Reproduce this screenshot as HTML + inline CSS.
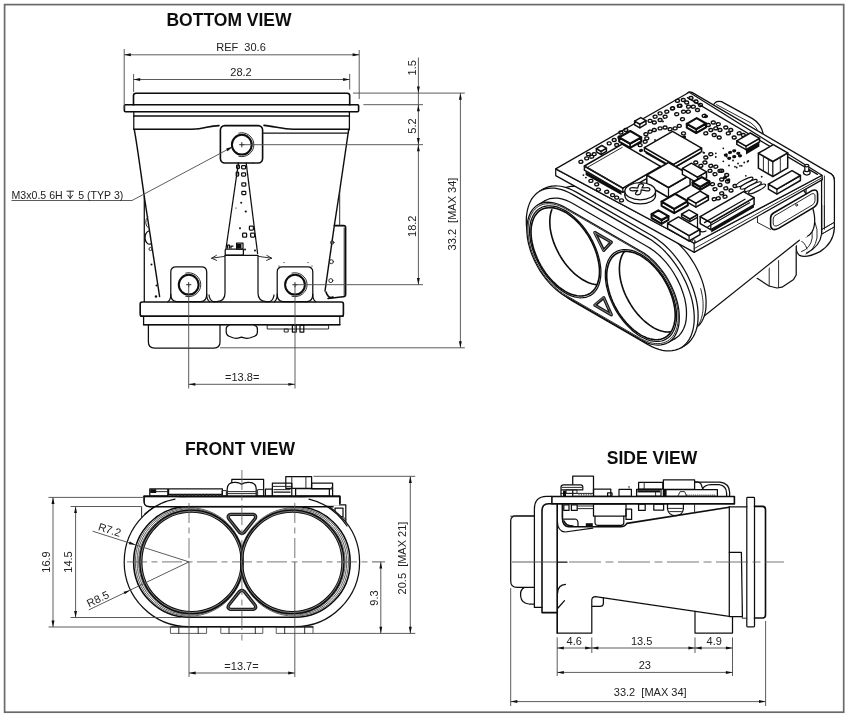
<!DOCTYPE html>
<html><head><meta charset="utf-8"><title>Drawing</title>
<style>
html,body{margin:0;padding:0;background:#fff;}
body{width:850px;height:719px;overflow:hidden;font-family:"Liberation Sans",sans-serif;}
svg{display:block;}
.o{fill:none;stroke:#111;stroke-width:1.25;stroke-linecap:round;stroke-linejoin:round;}
.of{fill:#fff;stroke:#111;stroke-width:1.25;stroke-linecap:round;stroke-linejoin:round;}
.k{fill:none;stroke:#0a0a0a;stroke-width:1.6;stroke-linecap:round;stroke-linejoin:round;}
.kf{fill:#fff;stroke:#0a0a0a;stroke-width:1.6;stroke-linecap:round;stroke-linejoin:round;}
.t{fill:none;stroke:#222;stroke-width:0.95;stroke-linecap:round;stroke-linejoin:round;}
.tf{fill:#fff;stroke:#222;stroke-width:0.95;stroke-linecap:round;stroke-linejoin:round;}
.w{fill:#fff;stroke:none;}
.b{fill:#111;stroke:none;}
.g{fill:#555;stroke:none;}
.d{fill:none;stroke:#4a4a4a;stroke-width:0.9;}
.c{fill:none;stroke:#555;stroke-width:0.8;stroke-dasharray:20 4.5 6 4.5;}
.c2{fill:none;stroke:#555;stroke-width:0.8;stroke-dasharray:32 4.5 8 4.5;}
.ah{fill:#111;stroke:none;}
.fr{fill:none;stroke:#6a6a6a;stroke-width:1.7;}
text{font-family:"Liberation Sans",sans-serif;}
.dt{font-size:11px;fill:#222;}
.tt{font-size:17.5px;font-weight:bold;fill:#111;}
</style></head>
<body>
<svg width="850" height="719" viewBox="0 0 850 719">
<defs><filter id="bl" x="0" y="0" width="850" height="719" filterUnits="userSpaceOnUse"><feGaussianBlur stdDeviation="0.5"/></filter></defs>
<rect x="0" y="0" width="850" height="719" fill="#fff"/>
<g filter="url(#bl)">
<g id="sec_frame">
<rect class="fr" x="4.6" y="4.6" width="839.1" height="707.6"/>
<text class="tt" x="229" y="26.3" text-anchor="middle">BOTTOM VIEW</text>
<text class="tt" x="240" y="454.6" text-anchor="middle">FRONT VIEW</text>
<text class="tt" x="652" y="463.6" text-anchor="middle">SIDE VIEW</text>
</g>
<g id="sec_bottom">
<path class="k" d="M133.5 105 V95.5 Q133.5 93.2 136 93.2 H347.2 Q349.7 93.2 349.7 95.5 V105"/>
<rect class="k" x="124.4" y="104.8" width="234.2" height="7" rx="1"/>
<path class="o" d="M133.8 111.8 V129.2 M349.4 111.8 V129.8"/>
<line class="k" x1="133.8" y1="116" x2="349.4" y2="116"/>
<path class="k" d="M133.8 129.3 H192 C205 129.3 208 125.6 219 125.6"/>
<path class="k" d="M264 125.4 C275 126.5 283 129.3 293 129.3 H349"/>
<line class="o" x1="263.5" y1="133.2" x2="347.6" y2="133.2"/>
<path class="o" d="M134.3 129.6 C138 150 141 175 144.5 198 L159.6 296.5" style="stroke-width:1.45"/>
<path class="o" d="M348.6 130 L339.8 190 L334.4 225 L325 291" style="stroke-width:1.45"/>
<line class="o" x1="144.3" y1="196" x2="144.3" y2="301.5"/>
<path class="t" d="M147.8 217 A4 6 0 0 0 148.6 228"/>
<path class="o" d="M148.6 231 A4.5 6.5 0 0 0 150.6 244"/>
<circle class="t" cx="150.6" cy="249" r="1.6"/>
<circle class="b" cx="151.5" cy="264.5" r="1"/>
<circle class="b" cx="156.5" cy="285.5" r="1"/>
<circle class="b" cx="156" cy="296.5" r="1.2"/>
<path class="k" d="M334.4 225.6 H343.5 Q345.6 225.6 345.6 227.5 V294.5 Q345.6 296.6 343 296.8 L328 298.5"/>
<line class="t" x1="339.7" y1="190.5" x2="339.7" y2="225.5"/>
<line class="t" x1="344.2" y1="228" x2="344.2" y2="295"/>
<circle class="t" cx="332.2" cy="242.5" r="1.7"/>
<circle class="t" cx="331.4" cy="261.7" r="2"/>
<circle class="t" cx="330.8" cy="280.6" r="2"/>
<path class="k" d="M326 292 Q328 299 333 297"/>
<rect class="k" x="220.4" y="125.6" width="42.2" height="37.4" rx="4.5"/>
<circle class="k" cx="241.8" cy="144.7" r="9.9" style="stroke-width:2"/>
<path class="t" d="M238.8 133.1 A12 12 0 1 1 238.8 156.3"/>
<line class="t" x1="239.6" y1="144.7" x2="244" y2="144.7"/>
<line class="t" x1="241.8" y1="142.5" x2="241.8" y2="146.9"/>
<path class="o" d="M167.8 301.8 Q170.8 300 170.8 294 V272 Q170.8 266.8 176.0 266.8 H201.5 Q206.7 266.8 206.7 272 V294 Q206.7 300 209.7 301.8"/>
<path class="o" d="M170.8 294 Q170.8 301.6 176.8 301.6 H200.7 Q206.7 301.6 206.7 294"/>
<circle class="k" cx="188.7" cy="284.7" r="9.9" style="stroke-width:2"/>
<path class="t" d="M185.7 273.1 A12 12 0 1 1 185.7 296.3"/>
<line class="t" x1="186.5" y1="284.7" x2="190.9" y2="284.7"/>
<line class="t" x1="188.7" y1="282.5" x2="188.7" y2="286.9"/>
<path class="o" d="M274.2 301.8 Q277.2 300 277.2 294 V272 Q277.2 266.8 282.4 266.8 H307.6 Q312.8 266.8 312.8 272 V294 Q312.8 300 315.8 301.8"/>
<path class="o" d="M277.2 294 Q277.2 301.6 283.2 301.6 H306.8 Q312.8 301.6 312.8 294"/>
<circle class="k" cx="295" cy="284.7" r="9.9" style="stroke-width:2"/>
<path class="t" d="M292.0 273.1 A12 12 0 1 1 292.0 296.3"/>
<line class="t" x1="292.8" y1="284.7" x2="297.2" y2="284.7"/>
<line class="t" x1="295" y1="282.5" x2="295" y2="286.9"/>
<path class="o" d="M225 255.5 V293 Q225 301 217 301.6 H213 Q209.5 300 209 295"/>
<path class="o" d="M258 255.8 V293 Q258 301 266 301.6 H270 Q273.5 300 274 295"/>
<line class="o" x1="225" y1="255.3" x2="258" y2="255.3"/>
<rect class="o" x="225.2" y="249.2" width="18.2" height="6" rx="1"/>
<rect class="o" x="236.6" y="243" width="6.4" height="6"/>
<path class="t" d="M211.6 258.2 L224.6 256.4 M216.4 255.4 L211.6 258.2 L216.6 260.4"/>
<path class="t" d="M271.6 258.2 L258.6 256.4 M266.8 255.4 L271.6 258.2 L266.6 260.4"/>
<path class="o" d="M238.4 163.2 L226 248.5"/>
<path class="o" d="M246.2 163.2 L257.6 253.5"/>
<rect class="o" x="241.6" y="165.6" width="4" height="3.2" rx="0.8"/>
<rect class="o" x="241.6" y="172.9" width="4" height="3.2" rx="0.8"/>
<rect class="o" x="241.8" y="182.9" width="4" height="3.2" rx="0.8"/>
<rect class="o" x="241.8" y="191.4" width="4" height="3.2" rx="0.8"/>
<rect class="o" x="236.6" y="165" width="2.8" height="3.5" rx="0.8"/>
<rect class="o" x="236.2" y="172" width="2.4" height="4" rx="0.8"/>
<circle class="b" cx="241.2" cy="202.8" r="1"/>
<circle class="b" cx="245.8" cy="211.5" r="1.1"/>
<circle class="b" cx="240" cy="228.3" r="1"/>
<circle class="b" cx="245" cy="249.5" r="1"/>
<circle class="b" cx="255" cy="250.5" r="1"/>
<circle class="b" cx="236" cy="208" r="0.6"/>
<rect class="o" x="249.4" y="226" width="4" height="4" rx="0.8"/>
<rect class="o" x="242.6" y="233.2" width="4" height="4" rx="0.8"/>
<rect class="o" x="250.6" y="233" width="4" height="4" rx="0.8"/>
<rect class="b" x="236.5" y="244" width="5" height="4.4"/>
<path class="o" d="M227.5 248 v-3 h2 v3 M231 248 v-2 h2"/>
<circle class="b" cx="253" cy="163.5" r="0.6"/>
<circle class="b" cx="284" cy="262.5" r="0.6"/>
<circle class="b" cx="308" cy="262.5" r="0.6"/>
<circle class="b" cx="279" cy="266" r="0.6"/>
<circle class="b" cx="312" cy="266" r="0.6"/>
<rect class="k" x="140.2" y="302" width="203.2" height="14.3" rx="2"/>
<line class="k" x1="141" y1="316.3" x2="343" y2="316.3"/>
<path class="o" d="M143.6 316.3 V324.7 H339.8 V316.3"/>
<line class="k" x1="143.6" y1="324.7" x2="339.8" y2="324.7"/>
<path class="o" d="M148.4 324.7 V342 Q148.4 348 154.5 348 H214 Q220 348 220 342 V324.7"/>
<path class="o" d="M229 325.5 Q226.2 326 226.2 329 V332 Q226.4 336 231 337 Q236 339.5 241.5 337.2 Q247 339.5 252.5 337 Q257.4 336 257.4 332 V329 Q257.4 326 254.5 325.5"/>
<rect class="t" x="267.6" y="325" width="61" height="4"/>
<rect class="o" x="292.4" y="325" width="3.8" height="7"/>
<rect class="o" x="300" y="325" width="3.8" height="7"/>
<rect class="t" x="284.6" y="329" width="3.6" height="3"/>
<line class="d" x1="124.2" y1="49" x2="124.2" y2="109"/>
<line class="d" x1="359.2" y1="50" x2="359.2" y2="99"/>
<line class="d" x1="124.2" y1="54.8" x2="359.2" y2="54.8"/>
<polygon class="ah" points="124.2,54.8 130.8,53.3 130.8,56.2"/>
<polygon class="ah" points="359.2,54.8 352.6,56.2 352.6,53.3"/>
<text class="dt" x="241" y="51.2" text-anchor="middle">REF&#160;&#160;30.6</text>
<line class="d" x1="133.6" y1="74" x2="133.6" y2="92"/>
<line class="d" x1="349.7" y1="74" x2="349.7" y2="89.5"/>
<line class="d" x1="133.6" y1="79.5" x2="349.7" y2="79.5"/>
<polygon class="ah" points="133.6,79.5 140.2,78 140.2,81"/>
<polygon class="ah" points="349.7,79.5 343.1,81 343.1,78"/>
<text class="dt" x="241" y="76.2" text-anchor="middle">28.2</text>
<line class="d" x1="418.4" y1="57.5" x2="418.4" y2="284.7"/>
<line class="d" x1="353" y1="93.1" x2="464.8" y2="93.1"/>
<line class="d" x1="363.4" y1="104.7" x2="423" y2="104.7"/>
<line class="d" x1="241.8" y1="144.7" x2="423" y2="144.7"/>
<line class="d" x1="295" y1="284.7" x2="423" y2="284.7"/>
<line class="d" x1="220" y1="347.8" x2="464.8" y2="347.8"/>
<polygon class="ah" points="418.4,93.1 416.9,86.5 419.8,86.5"/>
<polygon class="ah" points="418.4,104.7 419.8,111.3 416.9,111.3"/>
<polygon class="ah" points="418.4,144.7 416.9,138.1 419.8,138.1"/>
<polygon class="ah" points="418.4,144.7 419.8,151.3 416.9,151.3"/>
<polygon class="ah" points="418.4,284.7 416.9,278.1 419.8,278.1"/>
<line class="d" x1="460.4" y1="93.1" x2="460.4" y2="347.8"/>
<polygon class="ah" points="460.4,93.1 461.8,99.7 458.9,99.7"/>
<polygon class="ah" points="460.4,347.8 458.9,341.2 461.8,341.2"/>
<text class="dt" x="416.2" y="67.8" text-anchor="middle" transform="rotate(-90 416.2 67.8)">1.5</text>
<text class="dt" x="416.2" y="126" text-anchor="middle" transform="rotate(-90 416.2 126)">5.2</text>
<text class="dt" x="415.8" y="226.2" text-anchor="middle" transform="rotate(-90 415.8 226.2)">18.2</text>
<text class="dt" x="455.6" y="214" text-anchor="middle" transform="rotate(-90 455.6 214)">33.2&#160;&#160;[MAX 34]</text>
<line class="d" x1="188.7" y1="284.7" x2="188.7" y2="388.5"/>
<line class="d" x1="295" y1="284.7" x2="295" y2="388.5"/>
<line class="d" x1="188.7" y1="384.3" x2="295" y2="384.3"/>
<polygon class="ah" points="188.7,384.3 195.3,382.9 195.3,385.8"/>
<polygon class="ah" points="295,384.3 288.4,385.8 288.4,382.9"/>
<text class="dt" x="242.2" y="380.9" text-anchor="middle">=13.8=</text>
<path class="d" d="M11.5 200.5 L132 200.5 L232.2 147"/>
<polygon class="ah" points="232.6,146.8 227.5,151.2 226.1,148.6"/>
<text class="dt" x="11.5" y="198.6" text-anchor="start" textLength="51.2" lengthAdjust="spacingAndGlyphs">M3x0.5 6H</text>
<path class="t" d="M66.9 191.2 H73.5 M70.2 191.2 V198.4 M67.8 195.2 L70.2 198.4 L72.6 195.2"/>
<text class="dt" x="78.3" y="198.6" text-anchor="start" textLength="45" lengthAdjust="spacingAndGlyphs">5 (TYP 3)</text>
</g>
<g id="sec_front">
<rect class="o" x="285.8" y="476.6" width="25.8" height="11.8"/>
<line class="t" x1="291.8" y1="476.6" x2="291.8" y2="488.4"/>
<line class="t" x1="305.9" y1="476.6" x2="305.9" y2="488.4"/>
<rect class="o" x="311.6" y="483" width="21" height="5.8"/>
<line class="o" x1="332.6" y1="488.8" x2="332.6" y2="495.8"/>
<rect class="o" x="295.6" y="488.6" width="33.8" height="7.4"/>
<rect class="o" x="272.4" y="483" width="19.4" height="13"/>
<line class="t" x1="272.4" y1="486.4" x2="291.8" y2="486.4"/>
<line class="t" x1="274" y1="489.6" x2="290" y2="489.6"/>
<line class="o" x1="274" y1="492" x2="290" y2="492"/>
<rect class="o" x="265.4" y="489.2" width="7" height="6.8"/>
<path class="t" d="M330.6 488.6 q1.4 -3 1.8 0"/>
<path class="o" d="M231.8 482.5 V479.4 H263.6 V496"/>
<path class="o" d="M227.2 496 V489 Q227.5 482.6 234 482.4 Q238.5 482 241.6 484.2 Q244.6 482 249.5 482.4 Q256 482.6 256.2 489 V496"/>
<line class="t" x1="227.5" y1="491.6" x2="256" y2="491.6"/>
<line class="t" x1="227.5" y1="493.6" x2="256" y2="493.6"/>
<rect class="t" x="258" y="489.6" width="5.6" height="6.4"/>
<rect class="o" x="168.6" y="488.8" width="53.8" height="5.6"/>
<circle class="g" cx="172.5" cy="495.3" r="0.9"/>
<circle class="g" cx="176.1" cy="495.3" r="0.9"/>
<circle class="g" cx="179.7" cy="495.3" r="0.9"/>
<circle class="g" cx="183.3" cy="495.3" r="0.9"/>
<circle class="g" cx="186.9" cy="495.3" r="0.9"/>
<circle class="g" cx="190.5" cy="495.3" r="0.9"/>
<circle class="g" cx="194.1" cy="495.3" r="0.9"/>
<circle class="g" cx="197.7" cy="495.3" r="0.9"/>
<circle class="g" cx="201.3" cy="495.3" r="0.9"/>
<circle class="g" cx="204.9" cy="495.3" r="0.9"/>
<circle class="g" cx="208.5" cy="495.3" r="0.9"/>
<circle class="g" cx="212.1" cy="495.3" r="0.9"/>
<circle class="g" cx="215.7" cy="495.3" r="0.9"/>
<circle class="g" cx="219.3" cy="495.3" r="0.9"/>
<rect class="t" x="222.4" y="490.6" width="4" height="5.4"/>
<rect class="o" x="149.8" y="488.8" width="18" height="7.2"/>
<rect class="b" x="150.2" y="489.2" width="6" height="3.8"/>
<line class="t" x1="156.2" y1="491.6" x2="167.8" y2="491.6"/>
<path class="k" d="M144.1 496.4 H339.8 V503.2"/>
<path class="o" d="M144.1 496.4 V501.5 Q144.1 506.6 150 506.7"/>
<line class="t" x1="326.6" y1="503.2" x2="340" y2="503.2"/>
<path class="o" d="M326.8 504.8 H345.8 V526"/>
<rect class="o" x="335" y="508" width="8" height="8.6"/>
<line class="t" x1="343" y1="516.6" x2="345.8" y2="519.5"/>
<path class="t" d="M141.6 506.8 V517"/>
<path class="of" d="M189.0 497.1 H294.8 A64.8 64.8 0 0 1 294.8 626.7 H189.0 A64.8 64.8 0 0 1 189.0 497.1 Z"/>
<path class="k" d="M189.0 506.5 H294.8 A55.4 55.4 0 0 1 294.8 617.3 H189.0 A55.4 55.4 0 0 1 189.0 506.5 Z"/>
<path class="t" d="M241.9 547.3 A54.3 54.3 0 1 0 241.9 576.5" style="stroke:#555"/>
<path class="t" d="M241.9 549.4 A53.2 53.2 0 1 0 241.9 574.4" style="stroke:#555"/>
<path class="t" d="M241.9 551.2 A52.2 52.2 0 1 0 241.9 572.6" style="stroke:#555"/>
<circle class="k" cx="191.5" cy="561.9" r="50.7" style="stroke-width:3.3"/>
<circle class="t" cx="191.5" cy="561.9" r="50.7" style="stroke:#9a9a9a;stroke-width:0.8"/>
<path class="t" d="M241.9 547.3 A54.3 54.3 0 1 1 241.9 576.5" style="stroke:#555"/>
<path class="t" d="M241.9 549.4 A53.2 53.2 0 1 1 241.9 574.4" style="stroke:#555"/>
<path class="t" d="M241.9 551.2 A52.2 52.2 0 1 1 241.9 572.6" style="stroke:#555"/>
<circle class="k" cx="292.3" cy="561.9" r="50.7" style="stroke-width:3.3"/>
<circle class="t" cx="292.3" cy="561.9" r="50.7" style="stroke:#9a9a9a;stroke-width:0.8"/>
<rect class="w" x="145" y="497.4" width="194" height="8.2"/>
<path class="k" d="M144.1 496.4 H339.8 V503.2"/>
<path class="o" d="M144.1 496.4 V501.5 Q144.1 506.6 150 506.7"/>
<path class="o" d="M144.8 514 A64.8 64.8 0 0 1 175 499.2"/>
<path class="o" d="M309 499.2 A64.8 64.8 0 0 1 347 526"/>
<line class="k" x1="150" y1="506.7" x2="333" y2="506.7"/>
<g stroke-linejoin="round">
<path class="k" d="M230.5 514.4 H253.3 Q257 515.4 255 518.8 L244.2 532.4 Q241.9 534.4 239.6 532.4 L228.8 518.8 Q226.8 515.4 230.5 514.4 Z" style="stroke-width:3.3;stroke:#1a1a1a"/>
<path class="t" d="M230.5 514.4 H253.3 Q257 515.4 255 518.8 L244.2 532.4 Q241.9 534.4 239.6 532.4 L228.8 518.8 Q226.8 515.4 230.5 514.4 Z" style="stroke:#8a8a8a;stroke-width:0.8"/>
<path class="k" d="M230.5 609.4 H253.3 Q257 608.4 255 605 L244.2 591.4 Q241.9 589.4 239.6 591.4 L228.8 605 Q226.8 608.4 230.5 609.4 Z" style="stroke-width:3.3;stroke:#1a1a1a"/>
<path class="t" d="M230.5 609.4 H253.3 Q257 608.4 255 605 L244.2 591.4 Q241.9 589.4 239.6 591.4 L228.8 605 Q226.8 608.4 230.5 609.4 Z" style="stroke:#8a8a8a;stroke-width:0.8"/>
</g>
<rect class="t" x="170.8" y="627" width="35.8" height="6.4" style="stroke:#555"/>
<line class="t" x1="178.8" y1="627" x2="178.8" y2="633.4"/>
<line class="t" x1="198.2" y1="627" x2="198.2" y2="633.4"/>
<rect class="t" x="221.2" y="627" width="41.6" height="6.4" style="stroke:#555"/>
<line class="t" x1="229" y1="627" x2="229" y2="633.4"/>
<line class="t" x1="255.3" y1="627" x2="255.3" y2="633.4"/>
<rect class="t" x="276.6" y="627" width="36.4" height="6.4" style="stroke:#555"/>
<line class="t" x1="284.7" y1="627" x2="284.7" y2="633.4"/>
<line class="t" x1="304.7" y1="627" x2="304.7" y2="633.4"/>
<line class="o" x1="171" y1="626.9" x2="313" y2="626.9"/>
<line class="c" x1="127" y1="561.9" x2="372" y2="561.9"/>
<line class="c" x1="241.9" y1="470" x2="241.9" y2="644"/>
<line class="c" x1="189" y1="503" x2="189" y2="561.9"/>
<line class="c" x1="294.8" y1="503" x2="294.8" y2="561.9"/>
<line class="d" x1="48.5" y1="497.4" x2="144" y2="497.4"/>
<line class="d" x1="48.5" y1="627" x2="171" y2="627"/>
<line class="d" x1="53" y1="497.4" x2="53" y2="627"/>
<polygon class="ah" points="53,497.4 54.5,504 51.5,504"/>
<polygon class="ah" points="53,627 51.5,620.4 54.5,620.4"/>
<text class="dt" x="50" y="562" text-anchor="middle" transform="rotate(-90 50 562)">16.9</text>
<line class="d" x1="70.6" y1="506.5" x2="141.5" y2="506.5"/>
<line class="d" x1="70.6" y1="617.5" x2="181" y2="617.5"/>
<line class="d" x1="75.6" y1="506.5" x2="75.6" y2="617.5"/>
<polygon class="ah" points="75.6,506.5 77,513.1 74.1,513.1"/>
<polygon class="ah" points="75.6,617.5 74.1,610.9 77,610.9"/>
<text class="dt" x="72.4" y="562" text-anchor="middle" transform="rotate(-90 72.4 562)">14.5</text>
<line class="d" x1="92.6" y1="531.2" x2="189" y2="561.9"/>
<polygon class="ah" points="135.4,544.8 128.8,544.2 129.7,541.5"/>
<text class="dt" x="108.5" y="533.4" text-anchor="middle" transform="rotate(17.6 108.5 533.4)">R7.2</text>
<line class="d" x1="88.8" y1="609.9" x2="189" y2="561.9"/>
<polygon class="ah" points="130,590.2 124.8,594.2 123.6,591.7"/>
<text class="dt" x="99.6" y="602.4" text-anchor="middle" transform="rotate(-25.6 99.6 602.4)">R8.5</text>
<line class="d" x1="189" y1="561.9" x2="189" y2="677"/>
<line class="d" x1="294.8" y1="561.9" x2="294.8" y2="677"/>
<line class="d" x1="189" y1="673" x2="294.8" y2="673"/>
<polygon class="ah" points="189,673 195.6,671.5 195.6,674.5"/>
<polygon class="ah" points="294.8,673 288.2,674.5 288.2,671.5"/>
<text class="dt" x="241.5" y="669.5" text-anchor="middle">=13.7=</text>
<line class="d" x1="372" y1="561.9" x2="385" y2="561.9"/>
<line class="d" x1="313" y1="633.4" x2="415.3" y2="633.4"/>
<line class="d" x1="380.8" y1="561.9" x2="380.8" y2="633.4"/>
<polygon class="ah" points="380.8,561.9 382.2,568.5 379.4,568.5"/>
<polygon class="ah" points="380.8,633.4 379.4,626.8 382.2,626.8"/>
<text class="dt" x="377.6" y="598" text-anchor="middle" transform="rotate(-90 377.6 598)">9.3</text>
<line class="d" x1="313.4" y1="476.3" x2="415.3" y2="476.3"/>
<line class="d" x1="410.3" y1="476.3" x2="410.3" y2="633.4"/>
<polygon class="ah" points="410.3,476.3 411.8,482.9 408.9,482.9"/>
<polygon class="ah" points="410.3,633.4 408.9,626.8 411.8,626.8"/>
<text class="dt" x="405.8" y="558" text-anchor="middle" transform="rotate(-90 405.8 558)">20.5&#160;&#160;[MAX 21]</text>
</g>
<g id="sec_side">
<path class="o" d="M533.6 515.8 H516 Q510.7 515.8 510.7 521 V581 Q510.7 587.4 517 587.4 H533.6"/>
<path class="o" d="M524 587.6 Q520 590 520.6 596 Q521.5 603.6 529 604 H534"/>
<line class="t" x1="510.7" y1="516.2" x2="534" y2="516.2"/>
<path class="o" d="M552 496.4 H546.5 Q534.4 496.6 534.4 509 V607.4 H542"/>
<path class="k" d="M552 503.8 H548.5 Q542 504 542 510.5 V612.6 H557.2"/>
<line class="k" x1="557.2" y1="503.8" x2="557.2" y2="633"/>
<path class="o" d="M565.5 584.4 Q558 585 557.6 593"/>
<path class="o" d="M564.5 600.6 L558 608"/>
<path class="o" d="M557.2 633 H591.8 V600 Q592 596.6 595.4 596.6 L729.2 616.4"/>
<path class="o" d="M592 606.4 H600 Q603.4 606.2 603.4 603 V597.8"/>
<path class="o" d="M695 611.4 V633 H732.5 V617"/>
<path class="o" d="M729.3 506.8 V616.6 H742.2"/>
<line class="o" x1="729.3" y1="506.8" x2="746.8" y2="506.8"/>
<path class="o" d="M729.3 552.4 H741.4 L742.4 616.6"/>
<rect class="o" x="746.8" y="497.4" width="7.7" height="129.4" rx="0.8"/>
<path class="k" d="M754.5 506.4 H762.5 Q765.5 506.6 765.5 509.5 V615 Q765.5 618 762.5 618 H754.5"/>
<path class="t" d="M742.2 616.6 V618.2 H746.8"/>
<rect class="k" x="551.9" y="496.5" width="182.5" height="7.4"/>
<path class="k" d="M562.4 503.9 V518 Q562.6 526.8 569 526.8 H620.5 Q625 526.6 626.9 523.4 L729.3 507.2"/>
<path class="o" d="M557.4 522 Q557.6 531 565 532 L592.8 528.2"/>
<rect class="o" x="563.8" y="504.8" width="5.2" height="5.6"/>
<rect class="o" x="571.4" y="504.8" width="5.8" height="5.6"/>
<line class="t" x1="577.2" y1="506" x2="593.5" y2="506"/>
<line class="t" x1="577.2" y1="508.6" x2="593.5" y2="508.6"/>
<rect class="o" x="593.5" y="503.9" width="32.5" height="12.3"/>
<path class="o" d="M595 516.2 V523 Q595.4 525.4 598 525.4 H621 Q623.6 525.2 623.8 523 V516.2"/>
<rect class="o" x="626" y="509" width="5.6" height="10.4"/>
<rect class="b" x="585.8" y="523.2" width="7" height="3.6"/>
<path class="o" d="M563.4 519 H575 Q578 519.4 578 523 V526.4"/>
<path class="k" d="M564 521 Q566 526 573 526"/>
<rect class="o" x="638.6" y="504" width="6.6" height="6.4"/>
<rect class="o" x="653.8" y="504" width="9.8" height="6.2"/>
<path class="o" d="M667.5 504 V509 Q668.6 515.6 675.6 515.6 Q682.4 515.6 683.4 509 V504"/>
<path class="t" d="M668.5 508.4 H682.4 M669.6 511.6 H681.4"/>
<line class="t" x1="694.6" y1="504" x2="694.6" y2="512.8"/>
<rect class="o" x="572.7" y="476.2" width="20.8" height="20.2"/>
<path class="of" d="M561 496 V487 Q561.2 484.8 563.5 484.8 H580.6 Q582.8 485 582.8 487 V489.8 H561"/>
<line class="t" x1="562" y1="487.4" x2="581.6" y2="487.4"/>
<rect class="t" x="566.5" y="489.8" width="10.5" height="3.6"/>
<line class="t" x1="561" y1="493.4" x2="593" y2="493.4"/>
<rect class="b" x="563" y="490.6" width="3" height="5.4"/>
<rect class="o" x="593.5" y="489" width="17.3" height="7.4"/>
<rect class="o" x="607.6" y="492.8" width="4.4" height="3.6"/>
<circle class="g" cx="579" cy="494.8" r="0.7"/>
<circle class="g" cx="581.4" cy="494.8" r="0.7"/>
<circle class="g" cx="583.8" cy="494.8" r="0.7"/>
<circle class="g" cx="586.2" cy="494.8" r="0.7"/>
<circle class="g" cx="588.6" cy="494.8" r="0.7"/>
<circle class="g" cx="591" cy="494.8" r="0.7"/>
<rect class="o" x="619" y="489.4" width="12.4" height="7"/>
<path class="t" d="M629 488 v-1.6"/>
<rect class="o" x="638.6" y="482.4" width="24.2" height="6.6"/>
<line class="t" x1="644.2" y1="482.4" x2="644.2" y2="489"/>
<rect class="o" x="636.6" y="489.4" width="24.4" height="6.8"/>
<rect class="b" x="637.4" y="490.2" width="22.6" height="2.2"/>
<line class="t" x1="655.6" y1="492.4" x2="655.6" y2="496.2"/>
<rect class="o" x="663.4" y="479.9" width="31.2" height="9.5"/>
<rect class="o" x="663.4" y="489.6" width="54" height="6.7"/>
<rect class="b" x="663.8" y="489.8" width="2.8" height="6.2"/>
<circle class="g" cx="686" cy="495.2" r="0.8"/>
<circle class="g" cx="687.9" cy="495.2" r="0.8"/>
<circle class="g" cx="689.8" cy="495.2" r="0.8"/>
<circle class="g" cx="691.7" cy="495.2" r="0.8"/>
<circle class="g" cx="693.6" cy="495.2" r="0.8"/>
<circle class="g" cx="695.5" cy="495.2" r="0.8"/>
<circle class="g" cx="697.4" cy="495.2" r="0.8"/>
<circle class="g" cx="699.3" cy="495.2" r="0.8"/>
<circle class="g" cx="701.2" cy="495.2" r="0.8"/>
<circle class="g" cx="703.1" cy="495.2" r="0.8"/>
<circle class="g" cx="705" cy="495.2" r="0.8"/>
<circle class="g" cx="706.9" cy="495.2" r="0.8"/>
<circle class="g" cx="708.8" cy="495.2" r="0.8"/>
<circle class="g" cx="710.7" cy="495.2" r="0.8"/>
<circle class="g" cx="712.6" cy="495.2" r="0.8"/>
<circle class="g" cx="714.5" cy="495.2" r="0.8"/>
<path class="t" d="M678 496 L680.2 491.6 H684.6 L686.8 496"/>
<path class="o" d="M694.6 482 Q700.5 481.6 701.4 485 L702.8 489.4"/>
<path class="o" d="M694.6 482.2 H720 Q729 483.2 729.6 492 V496.4"/>
<path class="o" d="M702.5 489.4 Q704 484.8 711 484.6 H719 Q726.4 485.6 726.6 493 V496.2"/>
<line class="d" x1="512" y1="562" x2="556" y2="562"/>
<line class="o" x1="557" y1="562" x2="567" y2="562"/>
<line class="c2" x1="569" y1="562" x2="784" y2="562" stroke-dashoffset="0"/>
<line class="d" x1="557.2" y1="637.4" x2="557.2" y2="676"/>
<line class="d" x1="591.8" y1="637.4" x2="591.8" y2="653"/>
<line class="d" x1="695" y1="637.4" x2="695" y2="653"/>
<line class="d" x1="732.5" y1="637.4" x2="732.5" y2="676"/>
<line class="d" x1="557.2" y1="648" x2="732.5" y2="648"/>
<polygon class="ah" points="557.2,648 563.8,646.5 563.8,649.5"/>
<polygon class="ah" points="591.8,648 585.2,649.5 585.2,646.5"/>
<polygon class="ah" points="591.8,648 598.4,646.5 598.4,649.5"/>
<polygon class="ah" points="695,648 688.4,649.5 688.4,646.5"/>
<polygon class="ah" points="695,648 701.6,646.5 701.6,649.5"/>
<polygon class="ah" points="732.5,648 725.9,649.5 725.9,646.5"/>
<text class="dt" x="574.2" y="645" text-anchor="middle">4.6</text>
<text class="dt" x="641.6" y="645" text-anchor="middle">13.5</text>
<text class="dt" x="714.2" y="645" text-anchor="middle">4.9</text>
<line class="d" x1="557.2" y1="672.4" x2="732.5" y2="672.4"/>
<polygon class="ah" points="557.2,672.4 563.8,670.9 563.8,673.9"/>
<polygon class="ah" points="732.5,672.4 725.9,673.9 725.9,670.9"/>
<text class="dt" x="644.8" y="669.4" text-anchor="middle">23</text>
<line class="d" x1="510.7" y1="588" x2="510.7" y2="706"/>
<line class="d" x1="765.6" y1="621" x2="765.6" y2="706"/>
<line class="d" x1="510.7" y1="701.6" x2="765.6" y2="701.6"/>
<polygon class="ah" points="510.7,701.6 517.3,700.1 517.3,703.1"/>
<polygon class="ah" points="765.6,701.6 759,703.1 759,700.1"/>
<text class="dt" x="650.2" y="696.2" text-anchor="middle">33.2&#160;&#160;[MAX 34]</text>
</g>
<g id="sec_iso">
<path class="of" d="M713 106.4 Q714.6 100 721.5 101.6 L752.5 118.6 Q761.5 124 763.4 134.6 Z"/>
<path class="t" d="M716.5 104.6 L751 123 Q757 127 759 133"/>
<path class="of" d="M806 166 L829 172.8 Q834.4 174.6 834.4 181 V228 Q833.6 243 820 251.6 Q806 258.6 799.6 255.4 Q795.8 252.6 796.2 246 L796 230 L806 222 Z"/>
<path class="o" d="M821.6 179 V234 Q820 246.6 806.6 253"/>
<path class="t" d="M824.4 175 V229"/>
<path class="t" d="M821.6 229.6 L834.2 222.4 M821.6 234.2 L834.2 227"/>
<path class="t" d="M802.6 217.8 Q813.4 223 812.2 238 Q810.4 248.6 801.5 251.6"/>
<path class="t" d="M806.5 214 Q818.8 220 817 238 Q814.6 250 806 254"/>
<path class="t" d="M797 239 Q805 241 807 249"/>
<path class="of" d="M754.5 268 L754.5 276.6 L769 286 L777 288 L782 287.2 L793.6 279.4 L796.2 275 L796.2 240 L780 240 Z"/>
<line class="t" x1="769.2" y1="262" x2="769.2" y2="286"/>
<line class="t" x1="778.6" y1="256" x2="778.6" y2="287.6"/>
<path class="of" d="M790.4 234.4 L792.3 235.4 L794.2 236.3 L796.1 236.9 L797.9 237.4 L799.7 237.6 L801.4 237.7 L803.1 237.6 L804.7 237.3 L806.2 236.8 L807.6 236.1 L808.9 235.2 L810.1 234.2 L811.1 233 L812.1 231.6 L812.9 230.1 L813.5 228.4 L814 226.5 L814.4 224.6 L814.6 222.5 L814.7 220.4 L814.6 218.1 L814.4 215.8 L814 213.4 L813.5 211 L812.9 208.6 L812.1 206.1 L811.1 203.6 L810.1 201.2 L808.9 198.8 L807.6 196.4 L806.2 194.1 L804.7 191.9 L803.1 189.7 L801.4 187.7 L799.7 185.8 L797.9 184 L796.1 182.3 L794.2 180.8 L792.3 179.5 L790.4 178.3 L719.7 137.4 L717.8 136.4 L715.9 135.6 L714 134.9 L712.2 134.5 L710.4 134.2 L708.6 134.1 L707 134.2 L705.4 134.5 L703.9 135 L702.5 135.7 L701.2 136.6 L700 137.7 L699 138.9 L698 140.3 L697.2 141.8 L696.6 143.5 L696 145.3 L695.7 147.3 L695.4 149.3 L695.4 151.5 L695.4 153.7 L695.7 156 L696 158.4 L696.6 160.8 L697.2 163.3 L698 165.7 L699 168.2 L700 170.7 L701.2 173.1 L702.5 175.4 L703.9 177.7 L705.4 180 L707 182.1 L708.6 184.1 L710.4 186.1 L712.2 187.9 L714 189.5 L715.9 191 L717.8 192.4 L719.7 193.6 Z"/>
<path class="w" d="M563.1 188.1 L702.5 135.7 L807.6 236.1 L695 329.2 Z"/>
<path class="w" d="M690 300 L697 321.7 L799.4 240.2 L799.4 215 Z"/>
<line class="o" x1="697" y1="321.7" x2="799.4" y2="240.2"/>
<path class="kf" d="M773.5 213 L812 190.6 Q817.6 188.4 817.6 194 V201 Q817.6 205 813.4 207.6 L778.6 228.4 Q771 232 770.6 225 V218 Q770.8 214.6 773.5 213 Z"/>
<path class="t" d="M775 215.6 L811.6 194 Q815 192.6 815 196 V200.6 Q815 203.4 812 205.2 L778 225.4 Q773.4 227.6 773.2 223 V219 Q773.4 216.6 775 215.6 Z"/>
<circle class="t" cx="796.6" cy="205" r="1"/>
<path class="t" d="M757.5 222.5 L770.6 229.4 M757.5 215 V222.5"/>
<path class="of" d="M666.9 325.8 L670 327.4 L673.1 328.8 L676.1 329.8 L679 330.6 L681.9 331 L684.7 331.2 L687.4 331 L690 330.5 L692.4 329.7 L694.7 328.6 L696.7 327.1 L698.7 325.5 L700.4 323.5 L701.9 321.3 L703.2 318.8 L704.2 316 L705.1 313.1 L705.7 310 L706 306.6 L706.1 303.2 L706 299.5 L705.7 295.8 L705.1 292 L704.2 288.1 L703.2 284.1 L701.9 280.1 L700.4 276.2 L698.7 272.2 L696.7 268.3 L694.7 264.5 L692.4 260.8 L690 257.2 L687.4 253.7 L684.7 250.4 L681.9 247.3 L679 244.4 L676.1 241.7 L673.1 239.3 L670 237.1 L666.9 235.2 L591.2 191.5 L588.1 189.9 L585.1 188.5 L582.1 187.5 L579.1 186.7 L576.2 186.3 L573.4 186.2 L570.7 186.3 L568.2 186.8 L565.7 187.7 L563.5 188.8 L561.4 190.2 L559.5 191.9 L557.8 193.8 L556.3 196.1 L555 198.5 L553.9 201.3 L553.1 204.2 L552.5 207.3 L552.1 210.7 L552 214.2 L552.1 217.8 L552.5 221.5 L553.1 225.4 L553.9 229.3 L555 233.2 L556.3 237.2 L557.8 241.2 L559.5 245.1 L561.4 249 L563.5 252.8 L565.7 256.5 L568.2 260.1 L570.7 263.6 L573.4 266.9 L576.2 270 L579.1 272.9 L582.1 275.6 L585.1 278 L588.1 280.2 L591.2 282.1 Z"/>
<path class="w" d="M548.6 197.4 L563.5 188.8 L694.7 328.6 L679.7 337.2 Z"/>
<line class="o" x1="548.6" y1="197.4" x2="563.5" y2="188.8"/>
<line class="o" x1="694.7" y1="328.6" x2="679.7" y2="337.2"/>
<path class="of" d="M652 334.4 L655.1 336.1 L658.1 337.4 L661.2 338.5 L664.1 339.2 L667 339.6 L669.8 339.8 L672.5 339.6 L675.1 339.1 L677.5 338.3 L679.7 337.2 L681.8 335.8 L683.7 334.1 L685.4 332.1 L687 329.9 L688.2 327.4 L689.3 324.7 L690.1 321.7 L690.7 318.6 L691.1 315.3 L691.2 311.8 L691.1 308.1 L690.7 304.4 L690.1 300.6 L689.3 296.7 L688.2 292.7 L687 288.7 L685.4 284.8 L683.7 280.8 L681.8 276.9 L679.7 273.1 L677.5 269.4 L675.1 265.8 L672.5 262.3 L669.8 259 L667 255.9 L664.1 253 L661.2 250.4 L658.1 247.9 L655.1 245.7 L652 243.8 L576.3 200.1 L573.2 198.5 L570.2 197.1 L567.1 196.1 L564.2 195.3 L561.3 194.9 L558.5 194.8 L555.8 195 L553.2 195.5 L550.8 196.3 L548.6 197.4 L546.5 198.8 L544.6 200.5 L542.9 202.4 L541.3 204.7 L540.1 207.2 L539 209.9 L538.2 212.8 L537.6 216 L537.2 219.3 L537.1 222.8 L537.2 226.4 L537.6 230.1 L538.2 234 L539 237.9 L540.1 241.8 L541.3 245.8 L542.9 249.8 L544.6 253.7 L546.5 257.6 L548.6 261.4 L550.8 265.2 L553.2 268.8 L555.8 272.2 L558.5 275.5 L561.3 278.6 L564.2 281.5 L567.1 284.2 L570.2 286.6 L573.2 288.8 L576.3 290.7 Z"/>
<path class="t" d="M670 332.3 L671.7 332.9 L673.4 333.4 L675.1 333.8 L676.7 334.1 L678.4 334.3 L680 334.4 L681.5 334.4 L683.1 334.4 L684.6 334.2 L686 333.9 L687.4 333.5 L688.8 333 L690.1 332.5 L691.4 331.8 L692.6 331 L693.7 330.2 L694.8 329.2 L695.9 328.2 L696.8 327.1 L697.7 325.9 L698.6 324.6 L699.4 323.3 L700.1 321.8 L700.7 320.3 L701.3 318.7 L701.7 317.1 L702.2 315.3 L702.5 313.5 L702.8 311.7 L703 309.8 L703.1 307.9 L703.1 305.9 L703.1 303.8 L703 301.7 L702.8 299.6 L702.5 297.5 L702.2 295.3 L701.7 293.1 L701.3 290.9 L700.7 288.7"/>
<path class="w" d="M686.6 94.4 Q688 90.6 692 92.4 L829 172.6 Q834.4 175 834.4 181 V205 L821.6 205 V178 Z"/>
<path class="o" d="M686.6 94.4 Q688 90.6 692 92.4 L829 172.6 Q834.4 175 834.4 181 V205"/>
<path class="of" d="M555.7 168.9 L694.2 243.2 L822 175.3 L822.4 179.6 L694.2 252.4 L555.7 175.6 Z"/>
<path class="of" d="M555.7 168.9 L689.2 92.3 L822 175.3 L694.2 243.2 Z"/>
<line class="o" x1="694.2" y1="243.2" x2="694.2" y2="252.4"/>
<line class="t" x1="694.2" y1="248.6" x2="822.2" y2="177.6"/>
<line class="o" x1="687.4" y1="97.6" x2="817.4" y2="174.4"/>
<circle class="t" cx="693.6" cy="241.2" r="1.5"/>
<path class="o" d="M821.6 179.5 V234"/>
<path class="t" d="M824.4 176 V229"/>
<path class="t" d="M821.6 229.6 L834.2 222.4 M821.6 234.2 L834.2 227"/>
<ellipse class="o" cx="580.9" cy="161.8" rx="2" ry="1.5" transform="rotate(-8 580.9 161.8)" style="stroke-width:1.35"/>
<ellipse class="o" cx="586.7" cy="158.4" rx="2" ry="1.5" transform="rotate(-8 586.7 158.4)" style="stroke-width:1.35"/>
<ellipse class="o" cx="588.4" cy="154.2" rx="2" ry="1.5" transform="rotate(-8 588.4 154.2)" style="stroke-width:1.35"/>
<ellipse class="o" cx="594.2" cy="154.2" rx="2" ry="1.5" transform="rotate(-8 594.2 154.2)" style="stroke-width:1.35"/>
<ellipse class="o" cx="591.7" cy="156.7" rx="2" ry="1.5" transform="rotate(-8 591.7 156.7)" style="stroke-width:1.35"/>
<ellipse class="o" cx="609.2" cy="143.4" rx="2" ry="1.5" transform="rotate(-8 609.2 143.4)" style="stroke-width:1.35"/>
<ellipse class="o" cx="616.7" cy="145" rx="2" ry="1.5" transform="rotate(-8 616.7 145)" style="stroke-width:1.35"/>
<ellipse class="o" cx="614.2" cy="140" rx="2" ry="1.5" transform="rotate(-8 614.2 140)" style="stroke-width:1.35"/>
<ellipse class="o" cx="620.9" cy="132.5" rx="2" ry="1.5" transform="rotate(-8 620.9 132.5)" style="stroke-width:1.35"/>
<ellipse class="o" cx="625.9" cy="130" rx="2" ry="1.5" transform="rotate(-8 625.9 130)" style="stroke-width:1.35"/>
<ellipse class="o" cx="620" cy="137.5" rx="2" ry="1.5" transform="rotate(-8 620 137.5)" style="stroke-width:1.35"/>
<ellipse class="o" cx="590.9" cy="180.9" rx="2" ry="1.5" transform="rotate(-8 590.9 180.9)" style="stroke-width:1.35"/>
<ellipse class="o" cx="596.7" cy="184.3" rx="2" ry="1.5" transform="rotate(-8 596.7 184.3)" style="stroke-width:1.35"/>
<ellipse class="o" cx="598.4" cy="189.6" rx="2" ry="1.5" transform="rotate(-8 598.4 189.6)" style="stroke-width:1.35"/>
<ellipse class="o" cx="606.7" cy="191.8" rx="2" ry="1.5" transform="rotate(-8 606.7 191.8)" style="stroke-width:1.35"/>
<ellipse class="o" cx="612.6" cy="195.1" rx="2" ry="1.5" transform="rotate(-8 612.6 195.1)" style="stroke-width:1.35"/>
<ellipse class="o" cx="616.7" cy="197.6" rx="2" ry="1.5" transform="rotate(-8 616.7 197.6)" style="stroke-width:1.35"/>
<ellipse class="o" cx="621.5" cy="200.4" rx="2" ry="1.5" transform="rotate(-8 621.5 200.4)" style="stroke-width:1.35"/>
<ellipse class="o" cx="650.1" cy="120.9" rx="2" ry="1.5" transform="rotate(-8 650.1 120.9)" style="stroke-width:1.35"/>
<ellipse class="o" cx="655.1" cy="116.7" rx="2" ry="1.5" transform="rotate(-8 655.1 116.7)" style="stroke-width:1.35"/>
<ellipse class="o" cx="660.1" cy="113.4" rx="2" ry="1.5" transform="rotate(-8 660.1 113.4)" style="stroke-width:1.35"/>
<ellipse class="o" cx="654.3" cy="122.5" rx="2" ry="1.5" transform="rotate(-8 654.3 122.5)" style="stroke-width:1.35"/>
<ellipse class="o" cx="660.1" cy="120" rx="2" ry="1.5" transform="rotate(-8 660.1 120)" style="stroke-width:1.35"/>
<ellipse class="o" cx="665.1" cy="116.7" rx="2" ry="1.5" transform="rotate(-8 665.1 116.7)" style="stroke-width:1.35"/>
<ellipse class="o" cx="666.8" cy="111.7" rx="2" ry="1.5" transform="rotate(-8 666.8 111.7)" style="stroke-width:1.35"/>
<ellipse class="o" cx="672.6" cy="108.4" rx="2" ry="1.5" transform="rotate(-8 672.6 108.4)" style="stroke-width:1.35"/>
<ellipse class="o" cx="679.3" cy="105.9" rx="2" ry="1.5" transform="rotate(-8 679.3 105.9)" style="stroke-width:1.35"/>
<ellipse class="o" cx="683.5" cy="111.7" rx="2" ry="1.5" transform="rotate(-8 683.5 111.7)" style="stroke-width:1.35"/>
<ellipse class="o" cx="688.5" cy="106.7" rx="2" ry="1.5" transform="rotate(-8 688.5 106.7)" style="stroke-width:1.35"/>
<ellipse class="o" cx="645.9" cy="134.2" rx="2" ry="1.5" transform="rotate(-8 645.9 134.2)" style="stroke-width:1.35"/>
<ellipse class="o" cx="650.1" cy="131.7" rx="2" ry="1.5" transform="rotate(-8 650.1 131.7)" style="stroke-width:1.35"/>
<ellipse class="o" cx="654.3" cy="130" rx="2" ry="1.5" transform="rotate(-8 654.3 130)" style="stroke-width:1.35"/>
<ellipse class="o" cx="646.8" cy="138.4" rx="2" ry="1.5" transform="rotate(-8 646.8 138.4)" style="stroke-width:1.35"/>
<ellipse class="o" cx="640.1" cy="145.1" rx="2" ry="1.5" transform="rotate(-8 640.1 145.1)" style="stroke-width:1.35"/>
<ellipse class="o" cx="645.1" cy="141.7" rx="2" ry="1.5" transform="rotate(-8 645.1 141.7)" style="stroke-width:1.35"/>
<ellipse class="o" cx="660.1" cy="128.4" rx="2" ry="1.5" transform="rotate(-8 660.1 128.4)" style="stroke-width:1.35"/>
<ellipse class="o" cx="665.1" cy="127.5" rx="2" ry="1.5" transform="rotate(-8 665.1 127.5)" style="stroke-width:1.35"/>
<ellipse class="o" cx="670.1" cy="129.2" rx="2" ry="1.5" transform="rotate(-8 670.1 129.2)" style="stroke-width:1.35"/>
<ellipse class="o" cx="675.1" cy="128.4" rx="2" ry="1.5" transform="rotate(-8 675.1 128.4)" style="stroke-width:1.35"/>
<ellipse class="o" cx="679.3" cy="125.9" rx="2" ry="1.5" transform="rotate(-8 679.3 125.9)" style="stroke-width:1.35"/>
<ellipse class="o" cx="683.5" cy="133.4" rx="2" ry="1.5" transform="rotate(-8 683.5 133.4)" style="stroke-width:1.35"/>
<ellipse class="o" cx="672.5" cy="108.3" rx="2" ry="1.5" transform="rotate(-8 672.5 108.3)" style="stroke-width:1.35"/>
<ellipse class="o" cx="676.7" cy="114.2" rx="2" ry="1.5" transform="rotate(-8 676.7 114.2)" style="stroke-width:1.35"/>
<ellipse class="o" cx="680" cy="105.8" rx="2" ry="1.5" transform="rotate(-8 680 105.8)" style="stroke-width:1.35"/>
<ellipse class="o" cx="682.5" cy="119.2" rx="2" ry="1.5" transform="rotate(-8 682.5 119.2)" style="stroke-width:1.35"/>
<ellipse class="o" cx="688.3" cy="111.7" rx="2" ry="1.5" transform="rotate(-8 688.3 111.7)" style="stroke-width:1.35"/>
<ellipse class="o" cx="693.3" cy="106.7" rx="2" ry="1.5" transform="rotate(-8 693.3 106.7)" style="stroke-width:1.35"/>
<ellipse class="o" cx="697.5" cy="110" rx="2" ry="1.5" transform="rotate(-8 697.5 110)" style="stroke-width:1.35"/>
<ellipse class="o" cx="704.2" cy="115.8" rx="2" ry="1.5" transform="rotate(-8 704.2 115.8)" style="stroke-width:1.35"/>
<ellipse class="o" cx="677.5" cy="100.8" rx="2" ry="1.5" transform="rotate(-8 677.5 100.8)" style="stroke-width:1.35"/>
<ellipse class="o" cx="683.3" cy="100" rx="2" ry="1.5" transform="rotate(-8 683.3 100)" style="stroke-width:1.35"/>
<ellipse class="o" cx="686.7" cy="102.5" rx="2" ry="1.5" transform="rotate(-8 686.7 102.5)" style="stroke-width:1.35"/>
<ellipse class="o" cx="691" cy="98" rx="2" ry="1.5" transform="rotate(-8 691 98)" style="stroke-width:1.35"/>
<ellipse class="o" cx="696" cy="101.5" rx="2" ry="1.5" transform="rotate(-8 696 101.5)" style="stroke-width:1.35"/>
<ellipse class="o" cx="700.5" cy="105" rx="2" ry="1.5" transform="rotate(-8 700.5 105)" style="stroke-width:1.35"/>
<ellipse class="o" cx="708.3" cy="125" rx="2" ry="1.5" transform="rotate(-8 708.3 125)" style="stroke-width:1.35"/>
<ellipse class="o" cx="713.3" cy="122.5" rx="2" ry="1.5" transform="rotate(-8 713.3 122.5)" style="stroke-width:1.35"/>
<ellipse class="o" cx="718.3" cy="124.2" rx="2" ry="1.5" transform="rotate(-8 718.3 124.2)" style="stroke-width:1.35"/>
<ellipse class="o" cx="710.8" cy="130" rx="2" ry="1.5" transform="rotate(-8 710.8 130)" style="stroke-width:1.35"/>
<ellipse class="o" cx="715.8" cy="128.3" rx="2" ry="1.5" transform="rotate(-8 715.8 128.3)" style="stroke-width:1.35"/>
<ellipse class="o" cx="720" cy="130" rx="2" ry="1.5" transform="rotate(-8 720 130)" style="stroke-width:1.35"/>
<ellipse class="o" cx="714.2" cy="135" rx="2" ry="1.5" transform="rotate(-8 714.2 135)" style="stroke-width:1.35"/>
<ellipse class="o" cx="719.2" cy="137.5" rx="2" ry="1.5" transform="rotate(-8 719.2 137.5)" style="stroke-width:1.35"/>
<ellipse class="o" cx="705.8" cy="133.3" rx="2" ry="1.5" transform="rotate(-8 705.8 133.3)" style="stroke-width:1.35"/>
<ellipse class="o" cx="725.8" cy="127.5" rx="2" ry="1.5" transform="rotate(-8 725.8 127.5)" style="stroke-width:1.35"/>
<ellipse class="o" cx="730.8" cy="130" rx="2" ry="1.5" transform="rotate(-8 730.8 130)" style="stroke-width:1.35"/>
<ellipse class="o" cx="728.3" cy="133.3" rx="2" ry="1.5" transform="rotate(-8 728.3 133.3)" style="stroke-width:1.35"/>
<ellipse class="o" cx="734.2" cy="137.5" rx="2" ry="1.5" transform="rotate(-8 734.2 137.5)" style="stroke-width:1.35"/>
<ellipse class="o" cx="739.2" cy="133.3" rx="2" ry="1.5" transform="rotate(-8 739.2 133.3)" style="stroke-width:1.35"/>
<ellipse class="o" cx="743.3" cy="135" rx="2" ry="1.5" transform="rotate(-8 743.3 135)" style="stroke-width:1.35"/>
<ellipse class="o" cx="705.8" cy="157.5" rx="2" ry="1.5" transform="rotate(-8 705.8 157.5)" style="stroke-width:1.35"/>
<ellipse class="o" cx="710.8" cy="154.2" rx="2" ry="1.5" transform="rotate(-8 710.8 154.2)" style="stroke-width:1.35"/>
<ellipse class="o" cx="705" cy="162.5" rx="2" ry="1.5" transform="rotate(-8 705 162.5)" style="stroke-width:1.35"/>
<ellipse class="o" cx="710.8" cy="165.8" rx="2" ry="1.5" transform="rotate(-8 710.8 165.8)" style="stroke-width:1.35"/>
<ellipse class="o" cx="715.8" cy="166.7" rx="2" ry="1.5" transform="rotate(-8 715.8 166.7)" style="stroke-width:1.35"/>
<ellipse class="o" cx="720" cy="170.8" rx="2" ry="1.5" transform="rotate(-8 720 170.8)" style="stroke-width:1.35"/>
<ellipse class="o" cx="710" cy="170.8" rx="2" ry="1.5" transform="rotate(-8 710 170.8)" style="stroke-width:1.35"/>
<ellipse class="o" cx="715" cy="174.2" rx="2" ry="1.5" transform="rotate(-8 715 174.2)" style="stroke-width:1.35"/>
<ellipse class="o" cx="695.8" cy="162.5" rx="2" ry="1.5" transform="rotate(-8 695.8 162.5)" style="stroke-width:1.35"/>
<ellipse class="o" cx="700.8" cy="165.8" rx="2" ry="1.5" transform="rotate(-8 700.8 165.8)" style="stroke-width:1.35"/>
<ellipse class="o" cx="712.5" cy="184.2" rx="2" ry="1.5" transform="rotate(-8 712.5 184.2)" style="stroke-width:1.35"/>
<ellipse class="o" cx="720" cy="185" rx="2" ry="1.5" transform="rotate(-8 720 185)" style="stroke-width:1.35"/>
<ellipse class="o" cx="725.8" cy="188.3" rx="2" ry="1.5" transform="rotate(-8 725.8 188.3)" style="stroke-width:1.35"/>
<ellipse class="o" cx="715" cy="189.2" rx="2" ry="1.5" transform="rotate(-8 715 189.2)" style="stroke-width:1.35"/>
<ellipse class="o" cx="721.7" cy="193.3" rx="2" ry="1.5" transform="rotate(-8 721.7 193.3)" style="stroke-width:1.35"/>
<ellipse class="o" cx="725" cy="196.7" rx="2" ry="1.5" transform="rotate(-8 725 196.7)" style="stroke-width:1.35"/>
<ellipse class="o" cx="721.7" cy="170.8" rx="2" ry="1.5" transform="rotate(-8 721.7 170.8)" style="stroke-width:1.35"/>
<ellipse class="o" cx="726.7" cy="175" rx="2" ry="1.5" transform="rotate(-8 726.7 175)" style="stroke-width:1.35"/>
<ellipse class="o" cx="721.7" cy="179.5" rx="2" ry="1.5" transform="rotate(-8 721.7 179.5)" style="stroke-width:1.35"/>
<ellipse class="o" cx="727.5" cy="181.5" rx="2" ry="1.5" transform="rotate(-8 727.5 181.5)" style="stroke-width:1.35"/>
<ellipse class="o" cx="714.2" cy="199.2" rx="2" ry="1.5" transform="rotate(-8 714.2 199.2)" style="stroke-width:1.35"/>
<ellipse class="o" cx="718.3" cy="198.3" rx="2" ry="1.5" transform="rotate(-8 718.3 198.3)" style="stroke-width:1.35"/>
<ellipse class="o" cx="731" cy="190.5" rx="2" ry="1.5" transform="rotate(-8 731 190.5)" style="stroke-width:1.35"/>
<ellipse class="o" cx="735" cy="186" rx="2" ry="1.5" transform="rotate(-8 735 186)" style="stroke-width:1.35"/>
<ellipse class="b" cx="725.8" cy="155" rx="2.1" ry="1.6" transform="rotate(-8 725.8 155)"/>
<ellipse class="b" cx="730" cy="152.5" rx="2.1" ry="1.6" transform="rotate(-8 730 152.5)"/>
<ellipse class="b" cx="734.2" cy="150.8" rx="2.1" ry="1.6" transform="rotate(-8 734.2 150.8)"/>
<ellipse class="b" cx="738.3" cy="153.3" rx="2.1" ry="1.6" transform="rotate(-8 738.3 153.3)"/>
<ellipse class="b" cx="729.2" cy="158.3" rx="2.1" ry="1.6" transform="rotate(-8 729.2 158.3)"/>
<ellipse class="b" cx="734.2" cy="156.7" rx="2.1" ry="1.6" transform="rotate(-8 734.2 156.7)"/>
<ellipse class="b" cx="740" cy="155.8" rx="2.1" ry="1.6" transform="rotate(-8 740 155.8)"/>
<ellipse class="b" cx="725" cy="177.5" rx="2.1" ry="1.6" transform="rotate(-8 725 177.5)"/>
<ellipse class="b" cx="728.3" cy="180" rx="2.1" ry="1.6" transform="rotate(-8 728.3 180)"/>
<ellipse class="b" cx="706" cy="116.5" rx="2.1" ry="1.6" transform="rotate(-8 706 116.5)"/>
<ellipse class="b" cx="684" cy="137" rx="2.1" ry="1.6" transform="rotate(-8 684 137)"/>
<ellipse class="b" cx="641" cy="150.5" rx="2.1" ry="1.6" transform="rotate(-8 641 150.5)"/>
<circle class="b" cx="583.4" cy="175.1" r="0.9"/>
<circle class="b" cx="585.9" cy="177.6" r="0.9"/>
<circle class="b" cx="690.8" cy="143" r="0.9"/>
<circle class="b" cx="723.3" cy="148.3" r="0.9"/>
<circle class="b" cx="704.2" cy="152.8" r="0.9"/>
<circle class="b" cx="715.8" cy="157" r="0.9"/>
<circle class="b" cx="723.3" cy="161.3" r="0.9"/>
<circle class="b" cx="736.7" cy="167.5" r="0.9"/>
<circle class="b" cx="741.7" cy="165.8" r="0.9"/>
<circle class="b" cx="747.5" cy="161.7" r="0.9"/>
<circle class="b" cx="745.8" cy="175.8" r="0.9"/>
<circle class="b" cx="761.7" cy="176.7" r="0.9"/>
<circle class="b" cx="703.3" cy="152.5" r="0.9"/>
<circle class="b" cx="715.8" cy="153.3" r="0.9"/>
<circle class="b" cx="726.7" cy="156.7" r="0.9"/>
<circle class="b" cx="735" cy="166.7" r="0.9"/>
<circle class="b" cx="740" cy="165.8" r="0.9"/>
<circle class="b" cx="744.2" cy="162.5" r="0.9"/>
<circle class="b" cx="748.3" cy="160.8" r="0.9"/>
<circle class="b" cx="733" cy="160.5" r="0.9"/>
<circle class="b" cx="738" cy="163.5" r="0.9"/>
<circle class="b" cx="729" cy="165.5" r="0.9"/>
<circle class="b" cx="663" cy="121.5" r="0.9"/>
<circle class="b" cx="699" cy="121" r="0.9"/>
<circle class="b" cx="655" cy="140" r="0.9"/>
<path class="b" d="M585.6 171.6 L621.5 191.6 L621.5 195 L585.6 175 Z"/>
<path class="of" d="M584.4 166 L622.8 188.2 L660.5 166.4 L660.5 170.6 L622.8 192.3 L584.4 170.2 Z" style="stroke-width:1.5"/>
<path class="of" d="M584.4 166 L622.2 144.2 L660.5 166.4 L622.8 188.2 Z" style="stroke-width:1.5"/>
<line class="o" x1="622.8" y1="188.2" x2="622.8" y2="192.3"/>
<path class="t" d="M622.2 147.4 L587.4 167.4 L622.6 187.6"/>
<path class="b" d="M645.5 151 L673 166.6 L673 169 L645.5 153.6 Z"/>
<path class="b" d="M673.6 166.6 L700.5 151 L700.5 153.6 L673.6 169 Z"/>
<path class="of" d="M644.4 147.6 L673.5 164.4 L701.6 148.2 L701.6 151.6 L673.5 167.8 L644.4 151 Z" style="stroke-width:1.5"/>
<path class="of" d="M644.4 147.6 L672.5 131.4 L701.6 148.2 L673.5 164.4 Z" style="stroke-width:1.5"/>
<line class="o" x1="673.5" y1="164.4" x2="673.5" y2="167.8"/>
<path class="kf" d="M619.2 137.4 L630.1 143.7 L641.2 137.3 L641.2 141.5 L630.1 147.9 L619.2 141.6 Z" style="stroke-width:2.1"/>
<path class="kf" d="M619.2 137.4 L630.3 131 L641.2 137.3 L630.1 143.7 Z" style="stroke-width:2.1"/>
<line class="k" x1="630.1" y1="143.7" x2="630.1" y2="147.9"/>
<path class="of" d="M634.6 121.2 L639.8 124.2 L646 120.6 L646 124.2 L639.8 127.8 L634.6 124.8 Z" style="stroke-width:1.5"/>
<path class="of" d="M634.6 121.2 L640.8 117.6 L646 120.6 L639.8 124.2 Z" style="stroke-width:1.5"/>
<line class="o" x1="639.8" y1="124.2" x2="639.8" y2="127.8"/>
<path class="of" d="M596.4 148.6 L601.1 151.3 L606.4 148.2 L606.4 151.4 L601.1 154.5 L596.4 151.8 Z" style="stroke-width:1.5"/>
<path class="of" d="M596.4 148.6 L601.8 145.5 L606.4 148.2 L601.1 151.3 Z" style="stroke-width:1.5"/>
<line class="o" x1="601.1" y1="151.3" x2="601.1" y2="154.5"/>
<path class="kf" d="M686.8 123.8 L696.2 129.2 L706 123.5 L706 127.3 L696.2 133 L686.8 127.6 Z" style="stroke-width:2.1"/>
<path class="kf" d="M686.8 123.8 L696.7 118.1 L706 123.5 L696.2 129.2 Z" style="stroke-width:2.1"/>
<line class="k" x1="696.2" y1="129.2" x2="696.2" y2="133"/>
<path class="b" d="M746 146 L759.4 138.2 L759.4 146.5 L746 154.5 Z"/>
<path class="of" d="M736.8 140.8 L746 146.1 L759.5 138.3 L759.5 141.9 L746 149.7 L736.8 144.4 Z" style="stroke-width:1.5"/>
<path class="of" d="M736.8 140.8 L750.3 133 L759.5 138.3 L746 146.1 Z" style="stroke-width:1.5"/>
<line class="o" x1="746" y1="146.1" x2="746" y2="149.7"/>
<path class="of" d="M758.4 153.2 L772.8 161.5 L787.7 152.9 L787.7 167.9 L772.8 176.5 L758.4 168.2 Z" style="stroke-width:1.5"/>
<path class="of" d="M758.4 153.2 L773.3 144.6 L787.7 152.9 L772.8 161.5 Z" style="stroke-width:1.5"/>
<line class="o" x1="772.8" y1="161.5" x2="772.8" y2="176.5"/>
<line class="t" x1="763.4" y1="156.1" x2="763.4" y2="171.1"/>
<line class="t" x1="768.4" y1="159" x2="768.4" y2="174"/>
<line class="t" x1="780.3" y1="157.2" x2="780.3" y2="172.2"/>
<path class="of" d="M768.4 184.2 L776.9 189.1 L800.4 175.5 L800.4 180.5 L776.9 194.1 L768.4 189.2 Z" style="stroke-width:1.5"/>
<path class="of" d="M768.4 184.2 L792 170.6 L800.4 175.5 L776.9 189.1 Z" style="stroke-width:1.5"/>
<line class="o" x1="776.9" y1="189.1" x2="776.9" y2="194.1"/>
<ellipse class="of" cx="806.8" cy="172.6" rx="3.4" ry="2.4"/>
<rect class="of" x="804.8" y="165.4" width="4" height="6.2" rx="1.6"/>
<ellipse class="of" cx="806.8" cy="165.6" rx="2" ry="1.3"/>
<ellipse class="of" cx="744.5" cy="182" rx="9.4" ry="2.2" transform="rotate(-27 744.5 182)"/>
<ellipse class="of" cx="748.7" cy="184.3" rx="9.4" ry="2.2" transform="rotate(-27 748.7 184.3)"/>
<ellipse class="of" cx="752.9" cy="186.6" rx="9.4" ry="2.2" transform="rotate(-27 752.9 186.6)"/>
<ellipse class="of" cx="757.1" cy="188.9" rx="9.4" ry="2.2" transform="rotate(-27 757.1 188.9)"/>
<path class="of" d="M646.8 175 L668.5 187.5 L690.1 175 L690.1 185 L668.5 197.5 L646.8 185 Z" style="stroke-width:1.5"/>
<path class="of" d="M646.8 175 L668.5 162.5 L690.1 175 L668.5 187.5 Z" style="stroke-width:1.5"/>
<line class="o" x1="668.5" y1="187.5" x2="668.5" y2="197.5"/>
<path class="of" d="M682.4 168.4 L697.5 177.1 L706.5 171.9 L706.5 177.9 L697.5 183.1 L682.4 174.4 Z" style="stroke-width:1.5"/>
<path class="of" d="M682.4 168.4 L691.4 163.2 L706.5 171.9 L697.5 177.1 Z" style="stroke-width:1.5"/>
<line class="o" x1="697.5" y1="177.1" x2="697.5" y2="183.1"/>
<path class="kf" d="M692.6 182.4 L700.2 186.8 L709.4 181.5 L709.4 184.5 L700.2 189.8 L692.6 185.4 Z" style="stroke-width:2.1"/>
<path class="kf" d="M692.6 182.4 L701.8 177.1 L709.4 181.5 L700.2 186.8 Z" style="stroke-width:2.1"/>
<line class="k" x1="700.2" y1="186.8" x2="700.2" y2="189.8"/>
<path class="kf" d="M661.6 201.6 L674.2 208.9 L687.8 201.1 L687.8 205.3 L674.2 213.1 L661.6 205.8 Z" style="stroke-width:2.1"/>
<path class="kf" d="M661.6 201.6 L675.1 193.8 L687.8 201.1 L674.2 208.9 Z" style="stroke-width:2.1"/>
<line class="k" x1="674.2" y1="208.9" x2="674.2" y2="213.1"/>
<path class="kf" d="M651.6 214.2 L661.6 220 L668.4 216.1 L668.4 219.9 L661.6 223.8 L651.6 218 Z" style="stroke-width:2.1"/>
<path class="kf" d="M651.6 214.2 L658.4 210.3 L668.4 216.1 L661.6 220 Z" style="stroke-width:2.1"/>
<line class="k" x1="661.6" y1="220" x2="661.6" y2="223.8"/>
<path class="of" d="M687.6 198.4 L695.9 203.2 L708.4 196 L708.4 200 L695.9 207.2 L687.6 202.4 Z" style="stroke-width:1.5"/>
<path class="of" d="M687.6 198.4 L700.1 191.2 L708.4 196 L695.9 203.2 Z" style="stroke-width:1.5"/>
<line class="o" x1="695.9" y1="203.2" x2="695.9" y2="207.2"/>
<path class="of" d="M681.6 214.2 L689.9 219 L697.4 214.7 L697.4 217.3 L689.9 221.6 L681.6 216.8 Z" style="stroke-width:1.5"/>
<path class="of" d="M681.6 214.2 L689 209.9 L697.4 214.7 L689.9 219 Z" style="stroke-width:1.5"/>
<line class="o" x1="689.9" y1="219" x2="689.9" y2="221.6"/>
<path class="of" d="M667.6 223.2 L689.1 235.6 L700 229.3 L700 234.7 L689.1 241 L667.6 228.6 Z" style="stroke-width:1.5"/>
<path class="of" d="M667.6 223.2 L678.5 216.9 L700 229.3 L689.1 235.6 Z" style="stroke-width:1.5"/>
<line class="o" x1="689.1" y1="235.6" x2="689.1" y2="241"/>
<path class="of" d="M700.2 216.6 L710.8 222.7 L754.1 197.7 L754.1 204.7 L710.8 229.7 L700.2 223.6 Z" style="stroke-width:1.5"/>
<path class="of" d="M700.2 216.6 L743.5 191.6 L754.1 197.7 L710.8 222.7 Z" style="stroke-width:1.5"/>
<line class="o" x1="710.8" y1="222.7" x2="710.8" y2="229.7"/>
<path class="o" d="M704.5 222.6 L745 199.2 M708 226.8 L749.5 202.8"/>
<path class="b" d="M711.2 229.6 L754 204.9 L754 207.6 L711.2 232.4 Z"/>
<path class="o" d="M697.5 218 V228 Q700 233.6 706 231"/>
<ellipse class="of" cx="640.2" cy="195.4" rx="15.3" ry="8.6"/>
<rect class="w" x="625" y="190" width="30.4" height="5"/>
<line class="o" x1="624.9" y1="191.4" x2="624.9" y2="195.4"/>
<line class="o" x1="655.5" y1="191.4" x2="655.5" y2="195.4"/>
<ellipse class="of" cx="640.2" cy="191.2" rx="15.3" ry="8.6"/>
<path class="o" d="M633 187.6 q-3.4 -0.2 -3.2 1.8 q0.4 1.8 3.6 1.4 l4.4 -0.5 l-2.2 2.6 q-0.6 2 2.2 2 q2.6 -0.2 3 -2 l0.4 -3 l5.6 1 q3.2 0.2 3.2 -1.6 q-0.4 -1.8 -3.4 -1.6 l-4.6 0.2 l1.4 -2.4 q0.4 -1.8 -2.2 -1.8 q-2.4 0.2 -2.8 1.8 l-0.6 2.6 z"/>
<path class="of" d="M652 342.4 L655.6 344.3 L659.2 345.9 L662.8 347.1 L666.3 348 L669.7 348.5 L672.9 348.7 L676.1 348.5 L679.1 347.9 L682 346.9 L684.6 345.6 L687.1 344 L689.3 342 L691.3 339.7 L693.1 337 L694.6 334.1 L695.9 330.9 L696.9 327.5 L697.6 323.8 L698 319.9 L698.1 315.8 L698 311.5 L697.6 307.1 L696.9 302.6 L695.9 298 L694.6 293.3 L693.1 288.7 L691.3 284 L689.3 279.4 L687.1 274.8 L684.6 270.3 L682 265.9 L679.1 261.7 L676.1 257.6 L672.9 253.7 L669.7 250.1 L666.3 246.7 L662.8 243.5 L659.2 240.7 L655.6 238.1 L652 235.8 L576.3 192.1 L572.7 190.2 L569.1 188.6 L565.5 187.4 L562 186.5 L558.6 186 L555.4 185.9 L552.2 186.1 L549.2 186.7 L546.3 187.6 L543.7 188.9 L541.2 190.6 L539 192.6 L537 194.9 L535.2 197.5 L533.7 200.4 L532.4 203.6 L531.4 207.1 L530.7 210.8 L530.3 214.7 L530.2 218.8 L530.3 223 L530.7 227.4 L531.4 232 L532.4 236.5 L533.7 241.2 L535.2 245.9 L537 250.5 L539 255.2 L541.2 259.8 L543.7 264.3 L546.3 268.6 L549.2 272.9 L552.2 276.9 L555.4 280.8 L558.6 284.4 L562 287.9 L565.5 291 L569.1 293.9 L572.7 296.4 L576.3 298.7 Z"/>
<path class="w" d="M539.8 191.1 L543.7 188.9 L684.6 345.6 L680.8 347.9 Z"/>
<line class="o" x1="539.8" y1="191.1" x2="543.7" y2="188.9"/>
<line class="o" x1="684.6" y1="345.6" x2="680.8" y2="347.9"/>
<path class="of" d="M648.1 344.6 L651.8 346.6 L655.3 348.1 L658.9 349.4 L662.4 350.3 L665.8 350.8 L669.1 350.9 L672.2 350.7 L675.2 350.1 L678.1 349.2 L680.8 347.9 L683.2 346.2 L685.5 344.2 L687.5 341.9 L689.2 339.3 L690.8 336.4 L692 333.1 L693 329.7 L693.7 326 L694.1 322.1 L694.3 318 L694.1 313.7 L693.7 309.3 L693 304.8 L692 300.2 L690.8 295.6 L689.2 290.9 L687.5 286.2 L685.5 281.6 L683.2 277 L680.8 272.5 L678.1 268.1 L675.2 263.9 L672.2 259.8 L669.1 256 L665.8 252.3 L662.4 248.9 L658.9 245.8 L655.3 242.9 L651.8 240.3 L648.1 238.1 L572.4 194.4 L568.8 192.5 L565.2 190.9 L561.7 189.6 L558.2 188.8 L554.8 188.2 L551.5 188.1 L548.3 188.3 L545.3 188.9 L542.5 189.8 L539.8 191.1 L537.4 192.8 L535.1 194.8 L533.1 197.1 L531.3 199.7 L529.8 202.7 L528.6 205.9 L527.6 209.3 L526.9 213 L526.4 216.9 L526.3 221 L526.4 225.3 L526.9 229.7 L527.6 234.2 L528.6 238.8 L529.8 243.4 L531.3 248.1 L533.1 252.8 L535.1 257.4 L537.4 262 L539.8 266.5 L542.5 270.9 L545.3 275.1 L548.3 279.2 L551.5 283 L554.8 286.7 L558.2 290.1 L561.7 293.2 L565.2 296.1 L568.8 298.7 L572.4 300.9 Z"/>
<path class="of" d="M648.1 335.7 L651.1 337.3 L654.1 338.6 L657.1 339.6 L660 340.4 L662.8 340.8 L665.6 340.9 L668.2 340.7 L670.7 340.3 L673.1 339.5 L675.3 338.4 L677.3 337 L679.2 335.4 L680.9 333.4 L682.3 331.2 L683.6 328.8 L684.7 326.1 L685.5 323.3 L686.1 320.2 L686.4 316.9 L686.5 313.5 L686.4 310 L686.1 306.3 L685.5 302.6 L684.7 298.7 L683.6 294.9 L682.3 291 L680.9 287.1 L679.2 283.2 L677.3 279.4 L675.3 275.7 L673.1 272 L670.7 268.5 L668.2 265.1 L665.6 261.9 L662.8 258.9 L660 256 L657.1 253.4 L654.1 251 L651.1 248.9 L648.1 247 L572.4 203.3 L569.4 201.7 L566.4 200.4 L563.5 199.4 L560.6 198.6 L557.7 198.2 L555 198.1 L552.4 198.3 L549.9 198.7 L547.5 199.5 L545.3 200.6 L543.2 202 L541.4 203.7 L539.7 205.6 L538.2 207.8 L537 210.2 L535.9 212.9 L535.1 215.7 L534.5 218.8 L534.2 222.1 L534 225.5 L534.2 229 L534.5 232.7 L535.1 236.4 L535.9 240.3 L537 244.1 L538.2 248 L539.7 251.9 L541.4 255.8 L543.2 259.6 L545.3 263.3 L547.5 267 L549.9 270.5 L552.4 273.9 L555 277.1 L557.7 280.1 L560.6 283 L563.5 285.6 L566.4 288 L569.4 290.1 L572.4 292 Z"/>
<path class="w" d="M538.1 204.8 L545.3 200.6 L675.3 338.4 L668.1 342.5 Z"/>
<line class="o" x1="538.1" y1="204.8" x2="545.3" y2="200.6"/>
<line class="o" x1="675.3" y1="338.4" x2="668.1" y2="342.5"/>
<path class="of" d="M640.9 339.8 L644 341.4 L647 342.8 L649.9 343.8 L652.8 344.5 L655.6 345 L658.4 345.1 L661 344.9 L663.5 344.4 L665.9 343.6 L668.1 342.5 L670.1 341.2 L672 339.5 L673.7 337.6 L675.2 335.4 L676.4 333 L677.5 330.3 L678.3 327.4 L678.9 324.3 L679.2 321.1 L679.3 317.7 L679.2 314.1 L678.9 310.5 L678.3 306.7 L677.5 302.9 L676.4 299 L675.2 295.1 L673.7 291.2 L672 287.4 L670.1 283.6 L668.1 279.8 L665.9 276.2 L663.5 272.7 L661 269.3 L658.4 266.1 L655.6 263 L652.8 260.2 L649.9 257.6 L647 255.2 L644 253 L640.9 251.2 L565.3 207.5 L562.2 205.9 L559.2 204.5 L556.3 203.5 L553.4 202.8 L550.6 202.3 L547.8 202.2 L545.2 202.4 L542.7 202.9 L540.3 203.7 L538.1 204.8 L536.1 206.1 L534.2 207.8 L532.5 209.7 L531 211.9 L529.8 214.3 L528.7 217 L527.9 219.9 L527.3 223 L527 226.2 L526.9 229.6 L527 233.2 L527.3 236.8 L527.9 240.6 L528.7 244.4 L529.8 248.3 L531 252.2 L532.5 256.1 L534.2 259.9 L536.1 263.7 L538.1 267.5 L540.3 271.1 L542.7 274.6 L545.2 278 L547.8 281.2 L550.6 284.3 L553.4 287.1 L556.3 289.7 L559.2 292.1 L562.2 294.3 L565.3 296.1 Z"/>
<path class="t" d="M640.9 338.6 L643.9 340.1 L646.8 341.4 L649.7 342.4 L652.5 343.1 L655.2 343.5 L657.9 343.6 L660.4 343.5 L662.9 343 L665.2 342.2 L667.3 341.2 L669.3 339.8 L671.1 338.2 L672.7 336.4 L674.2 334.2 L675.4 331.9 L676.4 329.3 L677.2 326.5 L677.8 323.5 L678.1 320.3 L678.2 317 L678.1 313.6 L677.8 310 L677.2 306.4 L676.4 302.7 L675.4 298.9 L674.2 295.1 L672.7 291.4 L671.1 287.6 L669.3 283.9 L667.3 280.3 L665.2 276.7 L662.9 273.3 L660.4 270 L657.9 266.9 L655.2 264 L652.5 261.2 L649.7 258.7 L646.8 256.3 L643.9 254.3 L640.9 252.4 L565.3 208.7 L562.3 207.2 L559.4 205.9 L556.5 204.9 L553.7 204.2 L551 203.8 L548.3 203.7 L545.8 203.8 L543.3 204.3 L541 205.1 L538.9 206.1 L536.9 207.5 L535.1 209.1 L533.5 210.9 L532 213.1 L530.8 215.4 L529.8 218 L529 220.8 L528.4 223.8 L528.1 227 L528 230.3 L528.1 233.7 L528.4 237.3 L529 240.9 L529.8 244.6 L530.8 248.4 L532 252.2 L533.5 255.9 L535.1 259.7 L536.9 263.4 L538.9 267 L541 270.6 L543.3 274 L545.8 277.3 L548.3 280.4 L551 283.3 L553.7 286.1 L556.5 288.6 L559.4 291 L562.3 293 L565.3 294.9 Z"/>
<path class="of" d="M600.9 272.4 L600.8 268.7 L600.3 264.9 L599.7 261 L598.7 257.1 L597.6 253.1 L596.1 249 L594.4 245 L592.6 241.1 L590.5 237.2 L588.2 233.5 L585.7 229.9 L583.1 226.4 L580.3 223.2 L577.4 220.2 L574.5 217.4 L571.4 214.8 L568.4 212.6 L565.3 210.6 L562.1 209 L559.1 207.7 L556 206.7 L553.1 206.1 L550.2 205.8 L547.4 205.9 L544.8 206.3 L542.3 207 L540.1 208.2 L538 209.6 L536.1 211.3 L534.4 213.4 L533 215.8 L531.8 218.4 L530.8 221.3 L530.2 224.4 L529.7 227.7 L529.6 231.2 L529.7 234.9 L530.2 238.7 L530.8 242.6 L531.8 246.5 L533 250.5 L534.4 254.6 L536.1 258.5 L538 262.5 L540.1 266.3 L542.3 270.1 L544.8 273.7 L547.4 277.1 L550.2 280.4 L553.1 283.4 L556 286.2 L559.1 288.8 L562.1 291 L565.3 292.9 L568.4 294.6 L571.4 295.9 L574.5 296.9 L577.4 297.5 L580.3 297.8 L583.1 297.7 L585.7 297.3 L588.2 296.5 L590.5 295.4 L592.6 294 L594.4 292.3 L596.1 290.2 L597.6 287.8 L598.7 285.2 L599.7 282.3 L600.3 279.2 L600.8 275.9 L600.9 272.4 Z"/>
<path class="k" d="M599.5 271.6 L599.4 268.1 L599 264.4 L598.3 260.7 L597.4 256.9 L596.3 253 L594.9 249.1 L593.3 245.3 L591.5 241.5 L589.5 237.8 L587.3 234.2 L584.9 230.7 L582.4 227.4 L579.7 224.3 L577 221.4 L574.1 218.7 L571.2 216.3 L568.2 214.1 L565.3 212.2 L562.3 210.7 L559.3 209.4 L556.4 208.5 L553.5 207.9 L550.8 207.6 L548.1 207.7 L545.6 208.1 L543.2 208.8 L541 209.8 L539 211.2 L537.2 212.9 L535.6 214.9 L534.2 217.2 L533.1 219.7 L532.2 222.5 L531.5 225.5 L531.1 228.6 L531 232 L531.1 235.5 L531.5 239.2 L532.2 242.9 L533.1 246.7 L534.2 250.6 L535.6 254.4 L537.2 258.3 L539 262.1 L541 265.8 L543.2 269.4 L545.6 272.9 L548.1 276.2 L550.8 279.3 L553.5 282.2 L556.4 284.9 L559.3 287.3 L562.3 289.5 L565.3 291.4 L568.2 292.9 L571.2 294.2 L574.1 295.1 L577 295.7 L579.7 296 L582.4 295.9 L584.9 295.5 L587.3 294.8 L589.5 293.8 L591.5 292.4 L593.3 290.7 L594.9 288.7 L596.3 286.4 L597.4 283.9 L598.3 281.1 L599 278.1 L599.4 274.9 L599.5 271.6 Z"/>
<path class="k" d="M551.8 209.7 L551.1 211.8 L550.5 214.1 L550.1 216.6 L549.9 219.1 L549.8 221.8 L549.9 224.6 L550.1 227.4 L550.5 230.3 L551.1 233.3 L551.8 236.3 L552.7 239.3 L553.7 242.4 L554.9 245.4 L556.2 248.4 L557.7 251.4 L559.2 254.3 L560.9 257.2 L562.7 260 L564.6 262.7 L566.6 265.2 L568.7 267.7 L570.9 270.1 L573.1 272.3 L575.3 274.3 L577.6 276.2 L580 277.9 L582.3 279.5 L584.7 280.8 L587 282 L589.3 283 L591.6 283.7 L593.9 284.3 L596.1 284.6"/>
<path class="of" d="M676.6 316.1 L676.5 312.4 L676 308.6 L675.4 304.7 L674.4 300.8 L673.2 296.8 L671.8 292.7 L670.1 288.8 L668.2 284.8 L666.1 281 L663.9 277.2 L661.4 273.6 L658.8 270.2 L656 266.9 L653.1 263.9 L650.2 261.1 L647.1 258.5 L644.1 256.3 L640.9 254.4 L637.8 252.7 L634.8 251.4 L631.7 250.4 L628.8 249.8 L625.9 249.5 L623.1 249.6 L620.5 250 L618 250.8 L615.7 251.9 L613.6 253.3 L611.8 255 L610.1 257.1 L608.6 259.5 L607.5 262.1 L606.5 265 L605.9 268.1 L605.4 271.4 L605.3 274.9 L605.4 278.6 L605.9 282.4 L606.5 286.3 L607.5 290.2 L608.6 294.2 L610.1 298.3 L611.8 302.3 L613.6 306.2 L615.7 310.1 L618 313.8 L620.5 317.4 L623.1 320.9 L625.9 324.1 L628.8 327.1 L631.7 329.9 L634.8 332.5 L637.8 334.7 L640.9 336.7 L644.1 338.3 L647.1 339.6 L650.2 340.6 L653.1 341.2 L656 341.5 L658.8 341.4 L661.4 341 L663.9 340.3 L666.1 339.1 L668.2 337.7 L670.1 336 L671.8 333.9 L673.2 331.5 L674.4 328.9 L675.4 326 L676 322.9 L676.5 319.6 L676.6 316.1 Z"/>
<path class="k" d="M675.2 315.3 L675.1 311.8 L674.7 308.1 L674 304.4 L673.1 300.6 L672 296.7 L670.6 292.9 L669 289 L667.2 285.2 L665.2 281.5 L663 277.9 L660.6 274.4 L658.1 271.1 L655.4 268 L652.7 265.1 L649.8 262.4 L646.9 260 L643.9 257.8 L640.9 255.9 L638 254.4 L635 253.1 L632.1 252.2 L629.2 251.6 L626.5 251.3 L623.8 251.4 L621.3 251.8 L618.9 252.5 L616.7 253.5 L614.7 254.9 L612.9 256.6 L611.3 258.6 L609.9 260.9 L608.8 263.4 L607.9 266.2 L607.2 269.2 L606.8 272.4 L606.7 275.7 L606.8 279.2 L607.2 282.9 L607.9 286.6 L608.8 290.4 L609.9 294.3 L611.3 298.2 L612.9 302 L614.7 305.8 L616.7 309.5 L618.9 313.1 L621.3 316.6 L623.8 319.9 L626.5 323 L629.2 325.9 L632.1 328.6 L635 331 L638 333.2 L640.9 335.1 L643.9 336.6 L646.9 337.9 L649.8 338.8 L652.7 339.4 L655.4 339.7 L658.1 339.6 L660.6 339.2 L663 338.5 L665.2 337.5 L667.2 336.1 L669 334.4 L670.6 332.4 L672 330.1 L673.1 327.6 L674 324.8 L674.7 321.8 L675.1 318.7 L675.2 315.3 Z"/>
<path class="k" d="M624.5 251.4 L623.3 253 L622.3 254.9 L621.4 256.9 L620.7 259.1 L620.1 261.4 L619.7 263.8 L619.5 266.4 L619.4 269 L619.5 271.8 L619.7 274.6 L620.1 277.5 L620.7 280.5 L621.4 283.5 L622.3 286.5 L623.3 289.6 L624.5 292.6 L625.8 295.6 L627.3 298.6 L628.9 301.5 L630.6 304.4 L632.4 307.2 L634.3 309.9 L636.3 312.5 L638.3 314.9 L640.5 317.3 L642.7 319.5 L644.9 321.5 L647.3 323.4 L649.6 325.2 L651.9 326.7 L654.3 328.1 L656.6 329.2 L659 330.2 L661.3 331 L663.5 331.5 L665.7 331.9 L667.9 332 L670 331.9"/>
<path class="of" d="M594.8 232.5 L611.4 242.1 L603.7 250.4 Z" style="stroke-width:3.2;stroke:#1a1a1a"/>
<path class="t" d="M594.8 232.5 L611.4 242.1 L603.7 250.4 Z" style="stroke:#999;stroke-width:0.8"/>
<line class="t" x1="608.1" y1="243.3" x2="610.5" y2="244.1"/>
<path class="of" d="M594.8 305.2 L611.4 314.8 L603.7 297.6 Z" style="stroke-width:3.2;stroke:#1a1a1a"/>
<path class="t" d="M594.8 305.2 L611.4 314.8 L603.7 297.6 Z" style="stroke:#999;stroke-width:0.8"/>
<line class="t" x1="608.1" y1="309.7" x2="610.5" y2="310.4"/>
</g>
</g>
</svg>
</body></html>
